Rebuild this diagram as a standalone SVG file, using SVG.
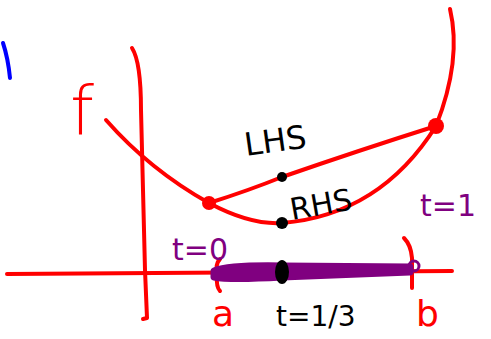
<svg xmlns="http://www.w3.org/2000/svg" width="491" height="339" viewBox="0 0 491 339">
<style>
.r{fill:none;stroke:#ff0000;stroke-width:4;stroke-linecap:round;stroke-linejoin:round}
.t{font-family:"DejaVu Sans",sans-serif}
.red{fill:#ff0000}.pur{fill:#800080}.blk{fill:#000}
</style>
<rect width="491" height="339" fill="#fff"/>
<path d="M3,43 Q8,58 10,78" fill="none" stroke="#0000ff" stroke-width="4" stroke-linecap="round"/>
<path class="r" d="M132,48 Q141,62 141,110 L145,270 L147,318 L143,319"/>
<path class="r" d="M7,274 L452,271"/>
<path class="r" d="M106,120 Q150,170 209,203 Q250,225 282,223 Q380,215 436,126 Q462,60 450,9"/>
<path class="r" d="M209,203 Q250,190 282,177 Q360,150 436,126"/>
<circle cx="209" cy="203" r="7" class="red"/>
<circle cx="436" cy="126" r="8" class="red"/>
<path class="r" d="M220,259 Q215,264 217,275 Q216,287 220,291"/>
<path class="r" d="M404,238 Q411,245 412,258 L412,288"/>
<path d="M214,271 Q230,265 282,266 L410,267 L410,272 L282,277 Q230,280 214,277 Z" class="pur" stroke="#800080" stroke-width="7" stroke-linejoin="round"/>
<circle cx="414" cy="266" r="5" fill="none" stroke="#800080" stroke-width="3"/>
<ellipse cx="282" cy="272" rx="7" ry="12" class="blk"/>
<circle cx="282" cy="177" r="5" class="blk"/>
<circle cx="282" cy="223" r="6" class="blk"/>
<text x="70" y="135" class="t red" font-size="68" font-weight="200">f</text>
<text x="246" y="156" class="t blk" font-size="32" transform="rotate(-8 246 156)">LHS</text>
<text x="292" y="220" class="t blk" font-size="30" transform="rotate(-10 292 220)">RHS</text>
<text x="172" y="260" class="t pur" font-size="30">t=0</text>
<text x="420" y="216" class="t pur" font-size="30">t=1</text>
<text x="212" y="326" class="t red" font-size="36">a</text>
<text x="416" y="326" class="t red" font-size="36">b</text>
<text x="276" y="326" class="t blk" font-size="28">t=1/3</text>
</svg>
